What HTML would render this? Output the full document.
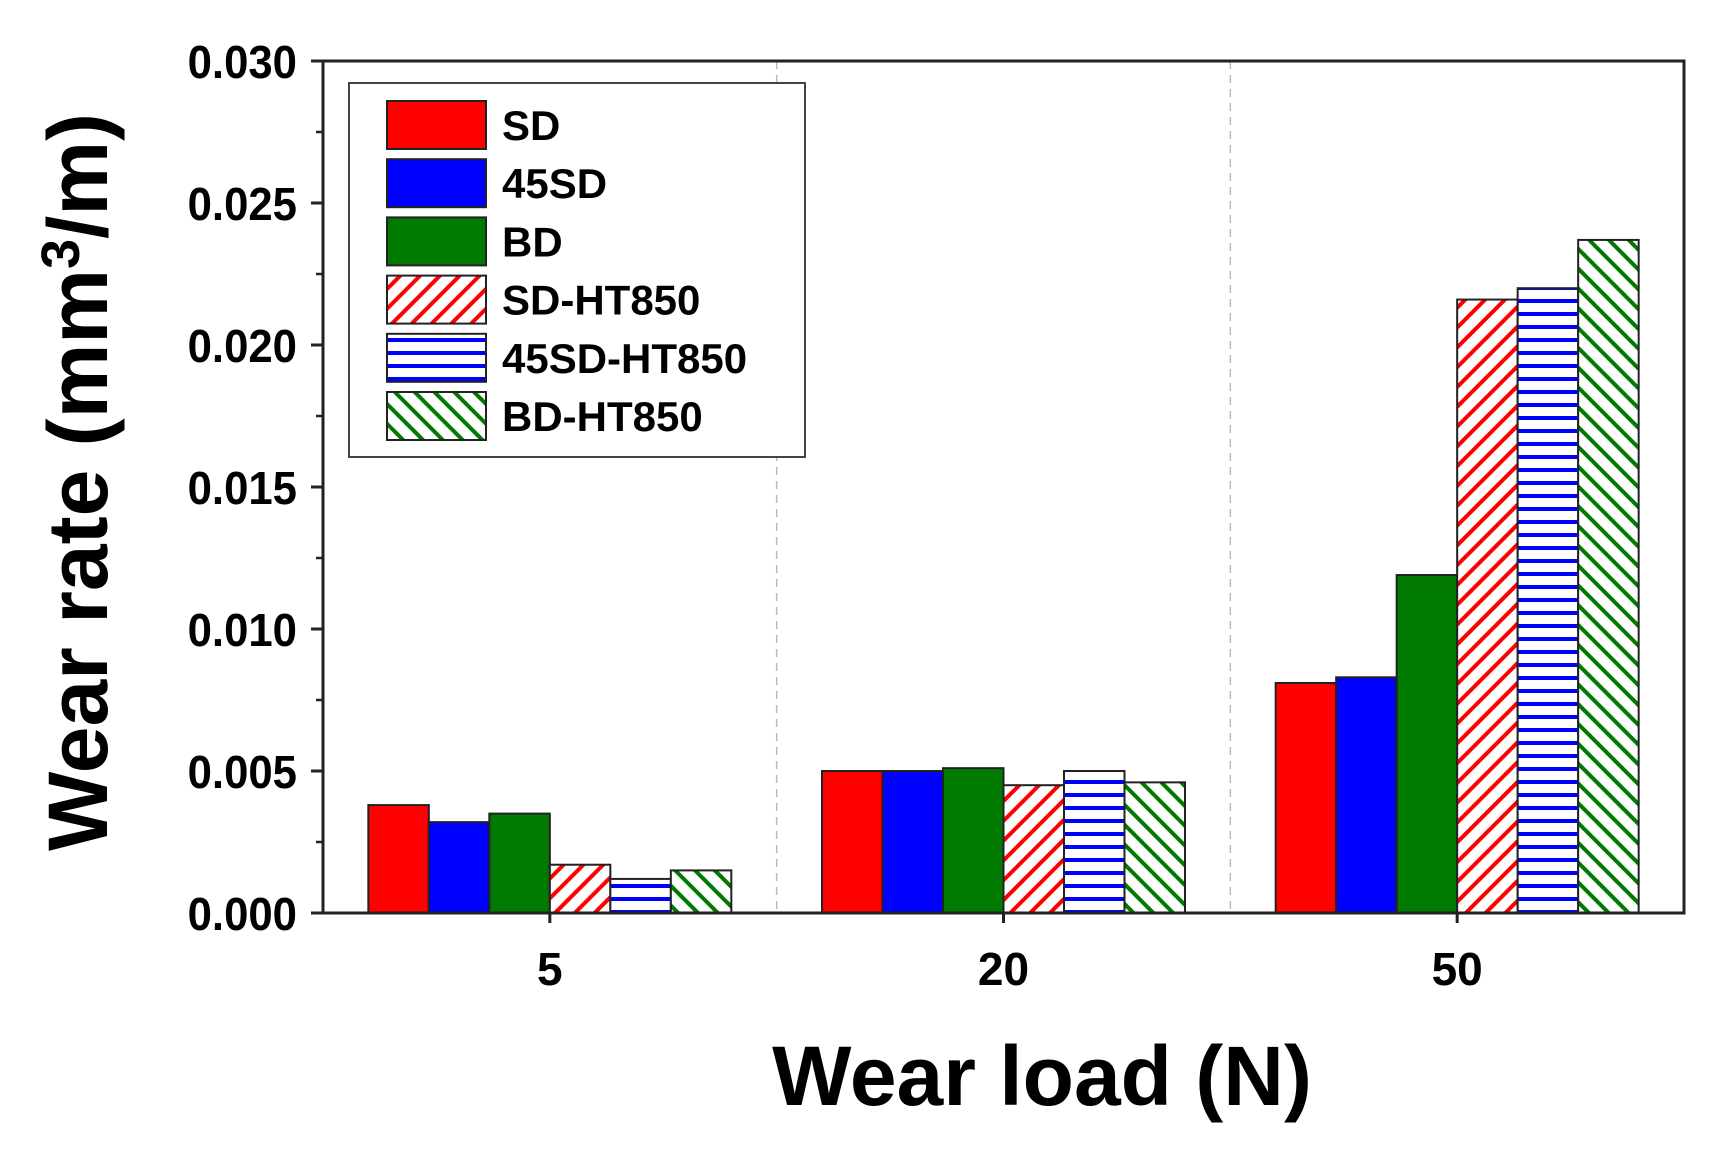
<!DOCTYPE html>
<html><head><meta charset="utf-8"><style>
html,body{margin:0;padding:0;background:#fff;}
svg{display:block;font-family:"Liberation Sans",Arial,sans-serif;font-weight:bold;}
</style></head><body>
<svg id="chart" width="1730" height="1162" viewBox="0 0 1730 1162" xmlns="http://www.w3.org/2000/svg">
<defs>
<pattern id="p-red" patternUnits="userSpaceOnUse" width="14" height="14" patternTransform="rotate(45)"><rect width="14" height="14" fill="#fff"/><rect x="0" y="0" width="4" height="14" fill="#f00"/></pattern>
<pattern id="p-blue" patternUnits="userSpaceOnUse" width="14" height="13"><rect width="14" height="13" fill="#fff"/><rect x="0" y="0" width="14" height="4" fill="#00f"/></pattern>
<pattern id="p-green" patternUnits="userSpaceOnUse" width="14" height="14" patternTransform="rotate(-45)"><rect width="14" height="14" fill="#fff"/><rect x="0" y="0" width="4" height="14" fill="#007a00"/></pattern>
</defs>
<g id="grid"></g>
<g id="bars"></g>
<g id="axes"></g>
<g id="legend"></g>
<text transform="translate(107,482) rotate(-90)" text-anchor="middle" font-size="84">Wear rate (mm<tspan font-size="54" dy="-28">3</tspan><tspan dy="28">/m)</tspan></text>
<text x="1042" y="1105" text-anchor="middle" font-size="84">Wear load (N)</text>
</svg>
<script>
const categories = ["5", "20", "50"];
const seriesNames = ["SD", "45SD", "BD", "SD-HT850", "45SD-HT850", "BD-HT850"];
const sSD = [0.0038, 0.0050, 0.0081];
const s45SD = [0.0032, 0.0050, 0.0083];
const sBD = [0.0035, 0.0051, 0.0119];
const sSDHT = [0.0017, 0.0045, 0.0216];
const s45SDHT = [0.0012, 0.0050, 0.0220];
const sBDHT = [0.0015, 0.0046, 0.0237];
const yTicks = [0, 0.005, 0.010, 0.015, 0.020, 0.025, 0.030];
const yTickLabels = ["0.000", "0.005", "0.010", "0.015", "0.020", "0.025", "0.030"];

const series = [sSD, s45SD, sBD, sSDHT, s45SDHT, sBDHT];
const fills = ["#f00", "#00f", "#007a00", "url(#p-red)", "url(#p-blue)", "url(#p-green)"];
const NS = "http://www.w3.org/2000/svg";
const L = 323, R = 1684, T = 61, B = 913;
const yMax = 0.030;
const y = v => B - (v / yMax) * (B - T);
const catW = (R - L) / categories.length;
const x = i => L + catW * (i + 0.5);
const barW = 60.5;
function mk(tag, attrs, parent) {
  const e = document.createElementNS(NS, tag);
  for (const k in attrs) e.setAttribute(k, attrs[k]);
  parent.appendChild(e);
  return e;
}
const grid = document.getElementById('grid');
for (let i = 1; i < categories.length; i++) {
  const gx = L + catW * i;
  const ln = mk('line', {x1: gx, x2: gx, y1: T, y2: B, stroke: '#bbb', 'stroke-width': 1.5, 'stroke-dasharray': '8,6'}, grid);
  
  
}
const bars = document.getElementById('bars');
categories.forEach((c, ci) => {
  const n = series.length;
  const start = x(ci) - barW * n / 2;
  series.forEach((s, si) => {
    const v = s[ci];
    const r = mk('rect', {x: start + si * barW, y: y(v), width: barW, height: B - y(v), fill: fills[si], stroke: '#222', 'stroke-width': 2}, bars);
    
    
  });
});
const axes = document.getElementById('axes');
const frame = mk('rect', {x: L, y: T, width: R - L, height: B - T, fill: 'none', stroke: '#222', 'stroke-width': 3}, axes);


yTicks.forEach((t, i) => {
  const ty = y(t);
  const tk = mk('line', {x1: L - 12, x2: L, y1: ty, y2: ty, stroke: '#222', 'stroke-width': 3}, axes);
  
  
  if (i < yTicks.length - 1) {
    const my = y(t + 0.0025);
    const mt = mk('line', {x1: L - 7, x2: L, y1: my, y2: my, stroke: '#222', 'stroke-width': 2.5}, axes);
    
    
  }
  const lb = mk('text', {x: L - 26, y: ty + 17, 'text-anchor': 'end', 'font-size': 46, transform: 'translate(' + (L - 26) + ',0) scale(0.95,1) translate(' + (-(L - 26)) + ',0)'}, axes);
  lb.textContent = yTickLabels[i];
  
  
});
categories.forEach((c, ci) => {
  const tk = mk('line', {x1: x(ci), x2: x(ci), y1: B, y2: B + 10, stroke: '#222', 'stroke-width': 3}, axes);
  
  
  const lb = mk('text', {x: x(ci), y: B + 72, 'text-anchor': 'middle', 'font-size': 46}, axes);
  lb.textContent = c;
  
  
});
const legend = document.getElementById('legend');
const lbox = mk('rect', {x: 349, y: 83, width: 456, height: 374, fill: '#fff', stroke: '#444', 'stroke-width': 2}, legend);


seriesNames.forEach((nm, i) => {
  const cy = 125 + i * 58.2;
  const sw = mk('rect', {x: 387, y: cy - 24, width: 99, height: 48, fill: fills[i], stroke: '#222', 'stroke-width': 2}, legend);
  
  
  const tx = mk('text', {x: 502, y: cy + 15, 'font-size': 42}, legend);
  tx.textContent = nm;
  
  
});
</script>
</body></html>
